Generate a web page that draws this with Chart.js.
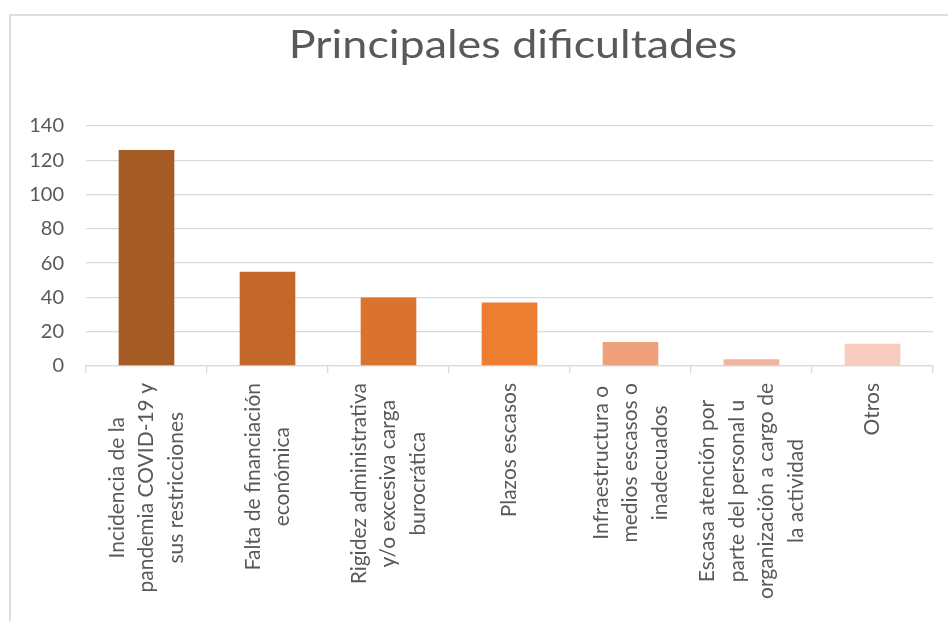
<!DOCTYPE html>
<html>
<head>
<meta charset="utf-8">
<script src="https://cdn.jsdelivr.net/npm/chart.js@4.4.1/dist/chart.umd.min.js"></script>
<style>
  html, body { margin: 0; padding: 0; background: #fff; overflow: hidden; }
  #frame { position: absolute; left: 9px; top: 14px; width: 2000px; height: 2000px;
           border-left: 2px solid #dedede; border-top: 2px solid #dedede; }
  #wrap { position: absolute; left: 0; top: 0; width: 948px; height: 621px; }
</style>
</head>
<body>
<div id="frame"></div>
<div id="wrap"><canvas id="chart"></canvas></div>
<script>
'use strict';

const chartTitle = 'Principales dificultades';

const categories = [
  ['Incidencia de la', 'pandemia COVID-19 y', 'sus restricciones'],
  ['Falta de financiación', 'económica'],
  ['Rigidez administrativa', 'y/o excesiva carga', 'burocrática'],
  ['Plazos escasos'],
  ['Infraestructura o', 'medios escasos o', 'inadecuados'],
  ['Escasa atención por', 'parte del personal u', 'organización a cargo de', 'la actividad'],
  ['Otros']
];
const values = [126, 55, 40, 37, 14, 4, 13];
const barColors = ['#a65a24', '#c4672a', '#d9732e', '#ed7d31', '#f09f7c', '#f4b49e', '#f8ccbf'];

const yMin = 0;
const yMax = 140;
const yStep = 20;

const textColor = '#595959';
const gridColor = '#d9d9d9';
const fontFamily = 'Lato, "Open Sans", sans-serif';

// x labels drawn centered line by line (Excel style), at the scale's own tick positions
const labelPlugin = {
  id: 'centeredLabels',
  afterDraw(chart) {
    const ctx = chart.ctx;
    const xScale = chart.scales.x;
    const lh = 29.5;
    ctx.save();
    ctx.fillStyle = textColor;
    ctx.font = '21px ' + fontFamily;
    ctx.textAlign = 'center';
    ctx.textBaseline = 'middle';
    categories.forEach((lines, i) => {
      const x = xScale.getPixelForValue(i);
      let maxW = 0;
      lines.forEach(l => { maxW = Math.max(maxW, ctx.measureText(l).width); });
      const cy = xScale.top + 17 + maxW / 2;
      ctx.save();
      ctx.translate(x, cy);
      ctx.rotate(-Math.PI / 2);
      lines.forEach((l, j) => {
        ctx.fillText(l, 0, (j - (lines.length - 1) / 2) * lh);
      });
      ctx.restore();
    });

    // title, a little wider like the original
    ctx.font = '38px ' + fontFamily;
    ctx.translate(513, 46);
    ctx.scale(1.18, 1);
    ctx.fillText(chartTitle, 0, 0);
    ctx.restore();
  }
};

const data = {
  labels: categories.map(c => c.join(' ')),
  datasets: [{
    data: values,
    backgroundColor: barColors,
    borderWidth: 0,
    barPercentage: 0.46,
    categoryPercentage: 1
  }]
};

const config = {
  type: 'bar',
  data: data,
  options: {
    responsive: true,
    maintainAspectRatio: false,
    animation: false,
    layout: { padding: { left: 20, right: 15, top: 126, bottom: 0 } },
    plugins: {
      legend: { display: false },
      title: { display: false },
      tooltip: { enabled: false }
    },
    scales: {
      x: {
        offset: true,
        grid: { display: true, drawOnChartArea: false, color: gridColor, tickLength: 7, lineWidth: 1.3 },
        border: { display: true, color: gridColor, width: 1.3 },
        ticks: { display: false },
        afterFit(scale) { scale.height = 255; }
      },
      y: {
        min: yMin,
        max: yMax,
        ticks: {
          stepSize: yStep,
          color: textColor,
          font: { family: fontFamily, size: 20 },
          padding: 22
        },
        grid: { color: gridColor, lineWidth: 1.3, drawTicks: false },
        border: { display: false },
        afterFit(scale) { scale.width = 66; }
      }
    }
  },
  plugins: [labelPlugin]
};

const myChart = new Chart(document.getElementById('chart'), config);
</script>
</body>
</html>
